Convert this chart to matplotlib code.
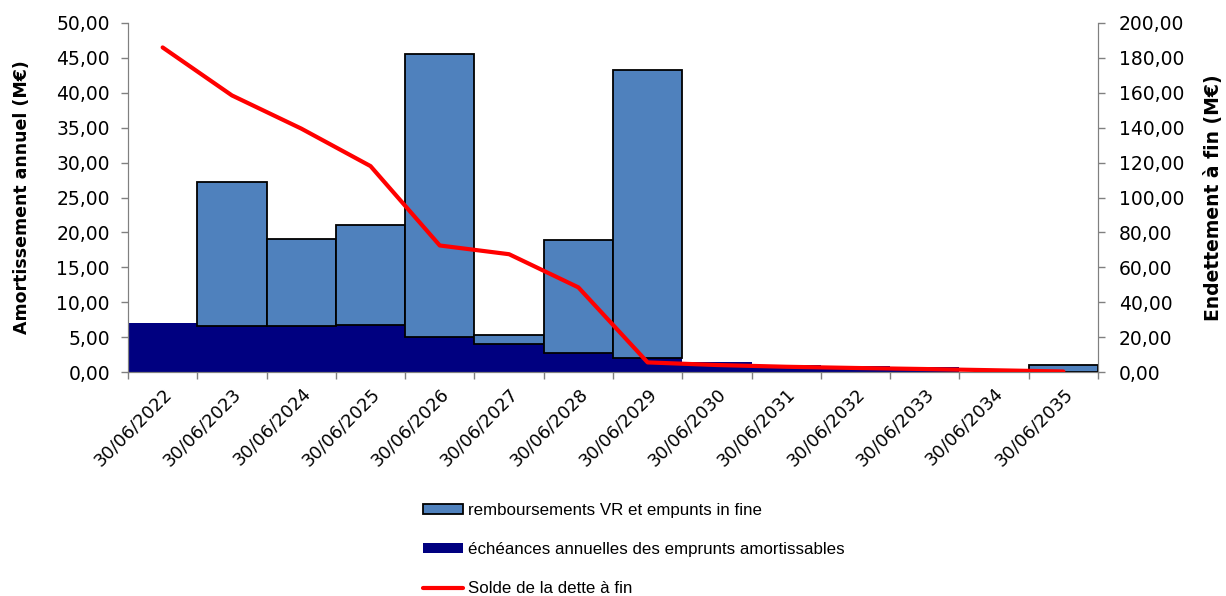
import matplotlib
matplotlib.use("Agg")
import matplotlib.pyplot as plt
import numpy as np

plt.rcParams['font.family'] = ['Liberation Sans', 'DejaVu Sans']

categories = ["30/06/2022", "30/06/2023", "30/06/2024", "30/06/2025", "30/06/2026",
              "30/06/2027", "30/06/2028", "30/06/2029", "30/06/2030", "30/06/2031",
              "30/06/2032", "30/06/2033", "30/06/2034", "30/06/2035"]
echeances = [7.0, 6.6, 6.6, 6.7, 5.0, 4.0, 2.7, 2.0, 1.4, 1.0, 0.9, 0.7, 0.0, 0.05]
remboursements = [0.0, 20.6, 12.4, 14.4, 40.5, 1.3, 16.2, 41.3, 0.0, 0.0, 0.0, 0.0, 0.0, 0.9]
solde = [186.0, 158.5, 139.5, 118.0, 72.5, 67.5, 48.5, 5.5, 4.0, 3.0, 2.3, 1.7, 1.0, 0.3]

left_ticks = [0, 5, 10, 15, 20, 25, 30, 35, 40, 45, 50]
right_ticks = [0, 20, 40, 60, 80, 100, 120, 140, 160, 180, 200]

W, H = 1226, 596
fig = plt.figure(figsize=(W / 100, H / 100), dpi=100)
ax = fig.add_axes([128 / W, 1 - 372 / H, (1098 - 128) / W, (372 - 23) / H])

x = np.arange(len(categories))
dark_col = "#000080"
light_col = "#4F81BD"
grey = "#808080"
tick_font = dict(family="DejaVu Sans", size=13.5)

ax.bar(x, echeances, width=1.0, color=dark_col, edgecolor="none",
       label="échéances annuelles des emprunts amortissables", zorder=2)
mask = np.array(remboursements) > 0
xr = x[mask]
rr = np.array(remboursements)[mask]
br = np.array(echeances)[mask]
ax.bar(xr, rr, bottom=br, width=1.0, color=light_col, edgecolor="black",
       linewidth=1.3, label="remboursements VR et empunts in fine", zorder=3)

ax.set_xlim(-0.5, len(categories) - 0.5)
ax.set_ylim(0, 50)
ax.set_yticks(left_ticks)
ax.set_yticklabels([f"{v:.2f}".replace(".", ",") for v in left_ticks], fontdict=tick_font)
ax.set_xticks(x)
ax.set_xticklabels(categories, rotation=45, ha="right", rotation_mode="anchor",
                   family="DejaVu Sans", fontsize=12.8)
ax.tick_params(axis="x", which="major", length=0, pad=9)
ax.set_xticks(np.arange(-0.5, len(categories)), minor=True)
ax.tick_params(axis="x", which="minor", length=5, color=grey, width=1)
ax.tick_params(axis="y", length=5, color=grey, width=1, pad=8)
for s in ["left", "bottom", "right"]:
    ax.spines[s].set_color(grey)
ax.spines["top"].set_visible(False)
ax.set_ylabel("Amortissement annuel (M€)", family="DejaVu Sans", fontsize=12.5,
              fontweight="bold", labelpad=18)

ax2 = ax.twinx()
ax2.plot(x, solde, color="#FF0000", linewidth=3, label="Solde de la dette à fin",
         solid_capstyle="round", zorder=5)
ax2.set_ylim(0, 200)
ax2.set_yticks(right_ticks)
ax2.set_yticklabels([f"{v:.2f}".replace(".", ",") for v in right_ticks], fontdict=tick_font)
ax2.tick_params(axis="y", length=5, color=grey, width=1, pad=10)
for s in ["left", "bottom", "right"]:
    ax2.spines[s].set_color(grey)
ax2.spines["top"].set_visible(False)
ax2.set_ylabel("Endettement à fin (M€)", family="DejaVu Sans", fontsize=13.5,
               fontweight="bold", labelpad=14)

h1, l1 = ax.get_legend_handles_labels()
h2, l2 = ax2.get_legend_handles_labels()
handles = [h1[1], h1[0], h2[0]]
labels = [l1[1], l1[0], l2[0]]
fig.legend(handles, labels, loc="upper left", bbox_to_anchor=(423 / W, 1 - 503 / H),
           frameon=False, fontsize=12.2, handlelength=2.35, handleheight=0.55,
           handletextpad=0.3, labelspacing=1.42, borderpad=0, borderaxespad=0)

fig.savefig("out.png", dpi=100)
